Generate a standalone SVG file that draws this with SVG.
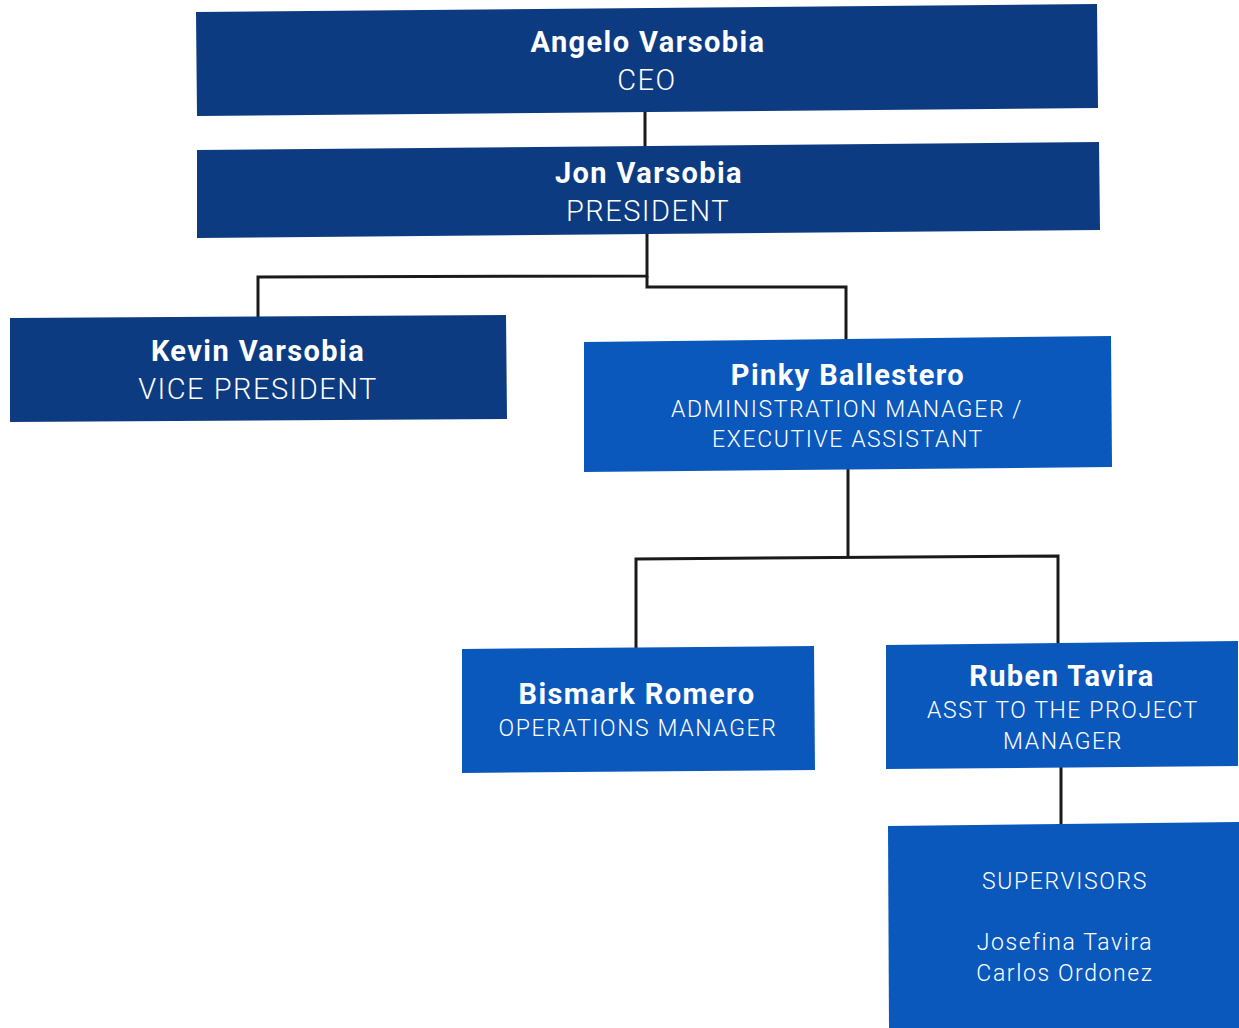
<svg xmlns="http://www.w3.org/2000/svg" width="1239" height="1028" viewBox="0 0 1239 1028">
<style>
.dark{fill:#0d3b82}
.blue{fill:#0b58bd}
.name{font-family:Roboto,"Liberation Sans",sans-serif;font-weight:700;font-size:29px;fill:#fff;text-anchor:middle;letter-spacing:1.4px}
.role{font-family:Roboto,"Liberation Sans",sans-serif;font-weight:300;font-size:29px;fill:#fff;text-anchor:middle;letter-spacing:1.5px}
.role2{font-family:Roboto,"Liberation Sans",sans-serif;font-weight:300;font-size:23px;fill:#fff;text-anchor:middle;letter-spacing:1.6px}
.conn{fill:none;stroke:#1a1a1a;stroke-width:3}
</style>
<rect width="1239" height="1028" fill="#fff"/>
<g id="connectors">
<path class="conn" d="M645 112 V148"/>
<path class="conn" d="M647 234 V276 L258 277 V320"/>
<path class="conn" d="M647 276 V287 H846 V340"/>
<path class="conn" d="M848 468 V557"/>
<path class="conn" d="M636 651 V559 L1058 556 V645"/>
<path class="conn" d="M1061 766 V826"/>
</g>
<g id="ceo">
<polygon class="dark" points="196,12 1097,4 1098,108 197,116"/>
<text class="name" x="648" y="52">Angelo Varsobia</text>
<text class="role" x="647" y="90">CEO</text>
</g>
<g id="president">
<polygon class="dark" points="197,150 1099,142 1100,230 197,238"/>
<text class="name" x="649" y="183">Jon Varsobia</text>
<text class="role" x="648" y="221">PRESIDENT</text>
</g>
<g id="vp">
<polygon class="dark" points="10,318 506,315 507,419 10,422"/>
<text class="name" x="258" y="361">Kevin Varsobia</text>
<text class="role" x="258" y="399">VICE PRESIDENT</text>
</g>
<g id="admin">
<polygon class="blue" points="584,342 1111,336 1112,467 584,472"/>
<text class="name" x="848" y="385">Pinky Ballestero</text>
<text class="role2" x="847" y="417">ADMINISTRATION MANAGER /</text>
<text class="role2" x="848" y="447">EXECUTIVE ASSISTANT</text>
</g>
<g id="ops">
<polygon class="blue" points="462,649 814,646 815,770 462,773"/>
<text class="name" x="637" y="704">Bismark Romero</text>
<text class="role2" x="638" y="736">OPERATIONS MANAGER</text>
</g>
<g id="asst">
<polygon class="blue" points="886,645 1238,641 1238,766 886,769"/>
<text class="name" x="1062" y="686">Ruben Tavira</text>
<text class="role2" x="1063" y="718">ASST TO THE PROJECT</text>
<text class="role2" x="1063" y="749">MANAGER</text>
</g>
<g id="supervisors">
<polygon class="blue" points="888,826 1239,822 1239,1028 889,1028"/>
<text class="role2" x="1065" y="889">SUPERVISORS</text>
<text class="role2" x="1065" y="950">Josefina Tavira</text>
<text class="role2" x="1065" y="981">Carlos Ordonez</text>
</g>
</svg>
